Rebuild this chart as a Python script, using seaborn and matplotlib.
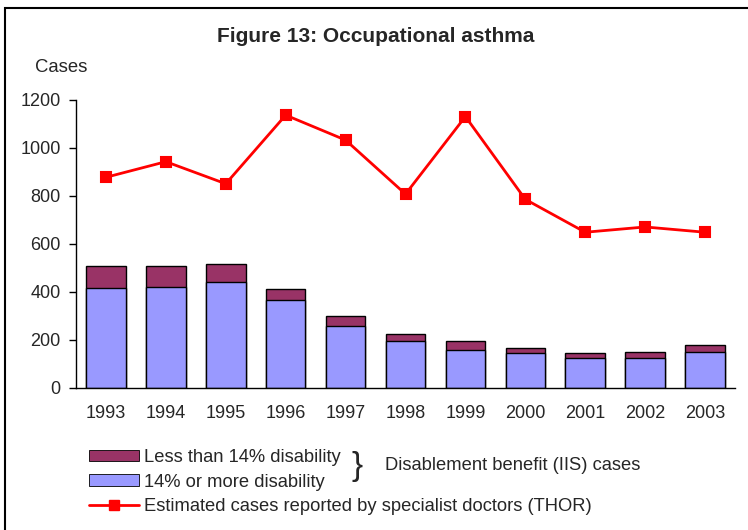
import pandas as pd
import seaborn as sns
import matplotlib.pyplot as plt
from matplotlib.patches import Patch, Rectangle
from matplotlib.lines import Line2D

sns.set_style("white")
plt.rcParams['font.family'] = ['Liberation Sans', 'DejaVu Sans']

# values
years = ['1993', '1994', '1995', '1996', '1997', '1998',
         '1999', '2000', '2001', '2002', '2003']
more_14 = [415, 419, 440, 365, 260, 194, 158, 145, 124, 124, 150]
less_14 = [93, 88, 75, 46, 39, 30, 36, 20, 22, 26, 30]
thor = [878, 943, 851, 1137, 1033, 808, 1131, 786, 649, 671, 649]

df = pd.DataFrame({'year': years, 'more': more_14, 'less': less_14, 'thor': thor})
df['total'] = df['more'] + df['less']

fig = plt.figure(figsize=(7.48, 5.30), dpi=100)
ax = fig.add_axes([76 / 748, 142 / 530, 659 / 748, 288 / 530])

# stacked bars: total in maroon, lower part in blue drawn over it
sns.barplot(data=df, x='year', y='total', color='#993366', saturation=1,
            width=0.66, edgecolor='black', linewidth=1, ax=ax)
sns.barplot(data=df, x='year', y='more', color='#9999FF', saturation=1,
            width=0.66, edgecolor='black', linewidth=1, ax=ax)
sns.pointplot(data=df, x='year', y='thor', color='#FF0000', marker='s',
              markersize=7, linewidth=2, errorbar=None, ax=ax)

ax.set_xlim(-0.5, 10.5)
ax.set_ylim(0, 1200)
ax.set_yticks(range(0, 1201, 200))
ax.set_xlabel('')
ax.set_ylabel('')
sns.despine(ax=ax)
for s in ['left', 'bottom']:
    ax.spines[s].set_color('black')
    ax.spines[s].set_linewidth(1)
ax.set_xticks([i + 0.5 for i in range(-1, 11)], minor=True)
ax.tick_params(axis='x', which='major', length=0, pad=12, labelsize=13)
ax.tick_params(axis='x', which='minor', length=5, width=1, color='black', direction='out')
ax.tick_params(axis='y', length=5, width=1, color='black', direction='out',
               pad=6, labelsize=13, left=True)

fig.text(376 / 748, 1 - 37 / 530, 'Figure 13: Occupational asthma',
         ha='center', va='center', fontsize=15, fontweight='bold')
fig.text(35 / 748, 1 - 68 / 530, 'Cases', ha='left', va='center', fontsize=13.3)

handles = [Patch(facecolor='#993366', edgecolor='black', linewidth=0.6),
           Patch(facecolor='#9999FF', edgecolor='black', linewidth=0.6),
           Line2D([], [], color='#FF0000', marker='s', markersize=7, linewidth=2)]
labels = ['Less than 14% disability', '14% or more disability',
          'Estimated cases reported by specialist doctors (THOR)']
fig.legend(handles, labels, loc='upper left', bbox_to_anchor=(89 / 748, 1 - 449 / 530),
           frameon=False, fontsize=13.2, handlelength=2.7, handleheight=0.6,
           handletextpad=0.3, labelspacing=0.42, borderpad=0, borderaxespad=0)
fig.text(352 / 748, 1 - 467 / 530, '}', ha='left', va='center', fontsize=24,
         fontweight='light')
fig.text(385 / 748, 1 - 465 / 530, 'Disablement benefit (IIS) cases',
         ha='left', va='center', fontsize=13.2)

# outer frame (top and left edges visible)
fig.patches.append(Rectangle((5 / 748, -0.2), 1.5, 1.2 - 8 / 530, transform=fig.transFigure,
                             fill=False, edgecolor='black', linewidth=1.5))

fig.savefig('out.png', dpi=100)
